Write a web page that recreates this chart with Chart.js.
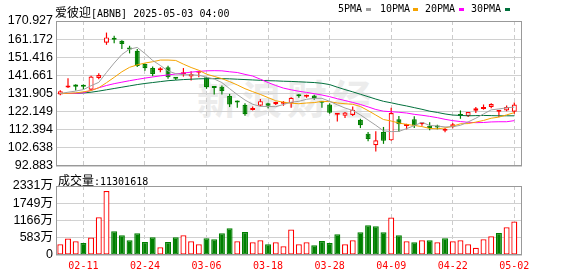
<!DOCTYPE html>
<html>
<head>
<meta charset="utf-8">
<script src="https://cdn.jsdelivr.net/npm/chart.js@4.4.1/dist/chart.umd.min.js"></script>
<style>
html, body { margin: 0; padding: 0; background: #fff; }
#wrap { position: relative; width: 578px; height: 276px; overflow: hidden; }
canvas { position: absolute; left: 0; top: 0; }
.t { position: absolute; white-space: nowrap; font: 10px 'DejaVu Sans Mono', monospace; color: #000; line-height: 12px; }
.cj { font: 12px 'Noto Sans CJK SC'; }
.sw { position: absolute; width: 5px; height: 3px; }
#wm { position: absolute; left: 197px; top: 68px; font: bold 40px 'Noto Sans CJK SC'; color: #ececec; letter-spacing: 5px; white-space: nowrap; }
</style>
</head>
<body>
<div id="wrap">
  <div id="wm">新浪财经</div>
  <canvas id="priceChart" width="578" height="276"></canvas>
  <canvas id="volChart" width="578" height="276"></canvas>
  <div class="t" style="left:55px;top:3px"><span class="cj">爱彼迎</span>[ABNB] 2025-05-03 04:00</div>
  <div class="t" style="left:338px;top:3px">5PMA</div>
  <div class="sw" style="left:366px;top:8px;background:#a0a0a0"></div>
  <div class="t" style="left:380px;top:3px">10PMA</div>
  <div class="sw" style="left:413px;top:8px;background:#f5a300"></div>
  <div class="t" style="left:425px;top:3px">20PMA</div>
  <div class="sw" style="left:459px;top:8px;background:#ff00ff"></div>
  <div class="t" style="left:471px;top:3px">30PMA</div>
  <div class="sw" style="left:505px;top:8px;background:#00703c"></div>
  <div class="t" style="left:58px;top:171px"><span class="cj">成交量</span>:11301618</div>
</div>
<script>
// 日期刻度 (索引 -> 标签)
const dateIdx = [3, 11, 19, 27, 35, 43, 51, 59];
const dateLabels = ['02-11', '02-24', '03-06', '03-18', '03-28', '04-09', '04-22', '05-02'];

// K线数据
const opens  = [131.4,135.1,136.7,135.8,133.9,140.3,159.2,161.2,160.3,156.7,154.9,147.8,145.6,144.4,146.0,140.1,142.2,141.0,143.1,140.6,
                135.0,135.6,130.5,127.5,125.8,123.0,125.3,126.7,126.3,126.4,126.7,130.6,130.2,130.8,127.2,126.0,120.5,119.9,120.3,117.8,
                110.3,104.1,111.2,106.7,118.0,114.4,118.0,115.4,114.6,113.9,111.9,113.9,120.7,119.8,122.6,123.5,124.6,122.1,122.8,122.1];
const highs  = [133.6,140.1,136.9,136.7,141.4,142.8,164.7,163.0,160.5,157.6,155.8,148.0,146.4,146.0,146.9,140.6,145.6,143.9,143.4,140.9,
                135.1,136.2,131.7,128.1,126.7,124.9,129.0,126.9,127.4,127.8,129.9,131.5,131.3,131.2,127.3,126.7,120.9,121.9,124.9,118.3,
                111.2,111.6,113.9,124.2,119.8,115.6,119.6,116.6,116.4,115.1,113.5,116.0,122.8,122.0,124.6,126.0,126.7,122.5,125.5,127.1];
const lows   = [130.9,134.9,133.5,134.2,133.5,139.6,158.1,159.0,155.8,153.5,146.2,144.2,141.2,143.3,139.8,139.2,141.0,138.9,140.6,134.4,
                131.4,131.4,124.6,124.2,119.9,122.8,125.0,123.9,125.7,125.3,124.2,129.6,129.6,128.5,124.2,121.0,116.9,118.7,119.8,113.3,
                106.2,100.7,104.8,106.5,111.2,112.6,113.3,114.6,112.1,112.6,111.0,113.2,118.3,119.2,121.4,123.2,124.0,119.2,122.4,121.0];
const closes = [133.1,135.4,135.6,135.5,141.0,141.9,162.1,160.8,158.5,155.6,146.7,145.5,142.4,144.8,140.6,139.8,142.5,142.4,143.3,135.3,
                134.8,133.2,126.0,127.1,120.7,123.4,127.8,125.3,126.6,126.8,129.6,130.4,130.4,129.4,126.9,121.6,120.8,121.7,123.2,114.8,
                107.4,106.7,106.5,121.4,115.3,114.8,114.6,115.7,113.2,113.6,112.3,115.3,119.8,121.9,123.9,123.8,126.2,122.4,124.6,126.0];

// 均线
const ma5  = [131.9,132.6,133.2,134.0,136.1,137.9,143.2,148.3,152.9,155.8,156.7,153.4,149.7,147.0,144.0,142.6,142.0,142.0,141.7,140.7,
              139.7,137.8,134.5,131.3,128.4,126.1,125.0,124.9,124.8,126.0,127.2,127.7,128.8,129.3,129.3,127.7,125.8,124.1,122.8,120.4,
              117.6,114.8,111.8,111.4,111.5,113.0,114.6,116.4,114.7,114.4,113.9,114.0,114.8,116.6,118.6,120.9,123.1,123.6,124.2,124.6];
const ma10 = [131.9,132.0,132.2,132.8,133.5,135.0,137.7,140.6,143.6,146.0,147.3,148.3,149.0,149.9,149.9,149.7,147.7,145.9,144.4,142.3,
              141.1,139.9,138.3,136.5,134.5,132.9,131.4,129.7,128.0,127.2,126.7,126.4,126.8,127.0,127.7,127.5,126.8,126.4,126.1,124.9,
              122.7,120.3,117.9,117.1,116.0,115.3,114.7,114.1,113.1,112.9,113.4,114.3,115.6,115.7,116.5,117.4,118.6,119.2,120.4,121.6];
const ma20 = [131.9,131.9,132.0,132.3,133.6,135.0,136.2,137.2,138.0,138.8,139.5,140.2,140.8,141.4,141.9,142.4,142.9,143.4,143.8,144.1,
              144.2,144.1,143.6,143.2,142.2,141.3,139.6,137.8,136.2,134.8,133.9,133.1,132.5,131.8,131.1,130.2,129.1,128.1,127.1,126.0,
              124.7,123.3,122.4,122.1,121.8,121.4,120.7,120.2,119.6,118.9,118.0,117.3,116.8,116.4,116.2,116.3,116.6,116.7,116.7,117.3];
const ma30 = [131.9,131.9,132.0,132.2,132.6,133.2,133.9,134.6,135.3,136.0,136.7,137.3,137.8,138.3,138.8,139.1,139.4,139.6,139.8,139.9,
              139.9,139.9,139.8,139.6,139.4,139.2,139.0,138.8,138.7,138.5,138.4,138.2,138.0,137.8,137.4,136.7,135.3,134.0,132.8,131.5,
              130.2,128.9,127.7,126.9,126.0,125.2,124.3,123.4,122.4,121.7,120.9,120.3,120.1,119.9,120.0,120.1,120.0,119.9,119.9,119.9];

// 成交量 (万股) 及涨跌 (1 = 红, 0 = 绿)
const volumes = [362,555,464,408,589,1279,2162,804,668,498,736,441,600,260,441,600,668,464,362,566,
                 532,736,906,464,781,430,498,362,430,294,860,362,430,328,475,408,702,362,498,770,
                 1008,974,770,1268,668,464,430,498,498,430,566,464,498,362,249,532,634,747,940,1130];
const volUp = [1,1,1,0,1,1,1,0,0,0,0,0,0,1,0,0,1,1,1,0,
               0,0,0,1,0,1,1,0,1,1,1,1,1,0,0,0,0,1,1,0,
               0,0,0,1,0,1,0,1,0,1,0,1,1,1,1,1,1,0,1,1];

// 坐标轴刻度
const priceTickLabels = ['92.883','102.638','112.394','122.149','131.905','141.661','151.416','161.172','170.927'];
const volTickValues = [0, 582.8, 1165.6, 1748.4, 2331.2];
const volTickLabels = ['0', '583万', '1166万', '1749万', '2331万'];

const RED = '#ff0000';
const GREEN = '#008000';
const priceTicks = priceTickLabels.map(Number);

// 边框
const frame = {
    id: 'frame',
    afterDatasetsDraw(chart) {
        const a = chart.chartArea;
        const c = chart.ctx;
        c.save();
        c.strokeStyle = '#999';
        c.lineWidth = 1;
        c.strokeRect(Math.round(a.left) + 0.5, Math.round(a.top) + 0.5,
                     Math.round(a.right - a.left) - 1, Math.round(a.bottom - a.top) - 1);
        c.restore();
    }
};

const isUp = closes.map((c, i) => c >= opens[i]);

function maLine(label, values, color) {
    return {
        type: 'line',
        label: label,
        data: values.map((v, i) => ({x: i, y: v})),
        borderColor: color,
        borderWidth: 1,
        pointRadius: 0,
        tension: 0,
        order: 0
    };
}

const xBase = {
    type: 'linear',
    min: -0.56,
    max: 60,
    offset: false,
    afterBuildTicks: s => { s.ticks = dateIdx.map(v => ({value: v})); },
    grid: {color: '#cccccc', drawTicks: false, offset: false},
    border: {display: false, dash: [4, 3]}
};

new Chart(document.getElementById('priceChart'), {
    type: 'bar',
    data: {
        datasets: [
            maLine('5PMA', ma5, '#a0a0a0'),
            maLine('10PMA', ma10, '#f5a300'),
            maLine('20PMA', ma20, '#ff00ff'),
            maLine('30PMA', ma30, '#00703c'),
            {
                label: 'body',
                data: opens.map((o, i) => ({x: i, y: [o, closes[i]]})),
                backgroundColor: isUp.map(u => u ? '#ffffff' : GREEN),
                borderColor: isUp.map(u => u ? RED : GREEN),
                borderWidth: 1.2,
                borderSkipped: false,
                barThickness: 5,
                minBarLength: 2,
                inflateAmount: 0,
                grouped: false,
                order: 1
            },
            {
                label: 'wick',
                data: lows.map((l, i) => ({x: i, y: [l, highs[i]]})),
                backgroundColor: isUp.map(u => u ? RED : GREEN),
                borderWidth: 0,
                barThickness: 1.2,
                inflateAmount: 0,
                grouped: false,
                order: 2
            }
        ]
    },
    options: {
        responsive: false,
        animation: false,
        layout: {padding: {left: 0, right: 56, top: 21, bottom: 110}},
        plugins: {legend: {display: false}, tooltip: {enabled: false}},
        scales: {
            x: Object.assign({}, xBase, {
                ticks: {display: false},
                afterFit: s => { s.height = 0; }
            }),
            y: {
                min: priceTicks[0],
                max: priceTicks[priceTicks.length - 1],
                afterBuildTicks: s => { s.ticks = priceTicks.map(v => ({value: v})); },
                ticks: {
                    callback: (v, i) => priceTickLabels[i],
                    color: '#000',
                    padding: 3,
                    autoSkip: false,
                    font: {family: "'Liberation Sans', Arial", size: 12.5}
                },
                grid: {color: '#d0d0d0', drawTicks: false},
                border: {display: false},
                afterFit: s => { s.width = 56; }
            }
        }
    },
    plugins: [frame]
});

new Chart(document.getElementById('volChart'), {
    type: 'bar',
    data: {
        datasets: [{
            label: '成交量',
            data: volumes.map((v, i) => ({x: i, y: v})),
            backgroundColor: volUp.map(u => u ? '#ffffff' : GREEN),
            borderColor: volUp.map(u => u ? RED : GREEN),
            borderWidth: 1.3,
            borderSkipped: false,
            barThickness: 6,
            inflateAmount: 0
        }]
    },
    options: {
        responsive: false,
        animation: false,
        layout: {padding: {left: 0, right: 56, top: 186, bottom: 0}},
        plugins: {legend: {display: false}, tooltip: {enabled: false}},
        scales: {
            x: Object.assign({}, xBase, {
                ticks: {
                    callback: (v, i) => dateLabels[i],
                    color: RED,
                    padding: 5,
                    autoSkip: false,
                    maxRotation: 0,
                    font: {family: "'DejaVu Sans Mono', monospace", size: 10}
                },
                afterFit: s => { s.height = 21; }
            }),
            y: {
                min: 0,
                max: volTickValues[volTickValues.length - 1],
                afterBuildTicks: s => { s.ticks = volTickValues.map(v => ({value: v})); },
                ticks: {
                    callback: (v, i) => volTickLabels[i],
                    color: '#000',
                    padding: 3,
                    autoSkip: false,
                    font: {family: "'Liberation Sans', 'Noto Sans CJK SC'", size: 12.5}
                },
                grid: {color: '#d0d0d0', drawTicks: false},
                border: {display: false},
                afterFit: s => { s.width = 56; }
            }
        }
    },
    plugins: [frame]
});
</script>
</body>
</html>
